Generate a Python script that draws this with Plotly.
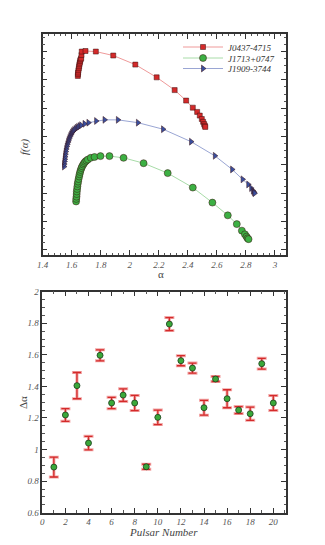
import plotly.graph_objects as go

# --- singularity spectra f(alpha), top panel ---
j0437_alpha = [1.642, 1.643, 1.644, 1.646, 1.649, 1.651, 1.653, 1.656, 1.658, 1.661, 1.665, 1.667,
               1.669, 1.695, 1.766, 1.886, 2.038, 2.185, 2.309, 2.388, 2.434, 2.464, 2.482,
               2.496, 2.505, 2.512, 2.517, 2.520]
j0437_f = [0.814, 0.820, 0.826, 0.834, 0.841, 0.848, 0.855, 0.861, 0.867, 0.872, 0.876, 0.888,
           0.900, 0.902, 0.900, 0.886, 0.854, 0.809, 0.764, 0.727, 0.702, 0.687, 0.674,
           0.662, 0.652, 0.644, 0.638, 0.634]

j1713_alpha = [1.630, 1.631, 1.633, 1.634, 1.635, 1.637, 1.639, 1.641, 1.644, 1.647, 1.651, 1.654,
               1.658, 1.662, 1.667, 1.672, 1.679, 1.685, 1.692, 1.701, 1.711, 1.731, 1.757,
               1.798, 1.860, 1.957, 2.095, 2.261, 2.434, 2.569, 2.675, 2.737, 2.772,
               2.793, 2.804, 2.811, 2.818]
j1713_f = [0.371, 0.380, 0.388, 0.397, 0.406, 0.415, 0.424, 0.433, 0.441, 0.450, 0.459, 0.467,
           0.475, 0.482, 0.489, 0.495, 0.501, 0.506, 0.511, 0.515, 0.519, 0.525, 0.528,
           0.531, 0.531, 0.525, 0.506, 0.471, 0.420, 0.367, 0.322, 0.291, 0.268,
           0.255, 0.247, 0.241, 0.238]

j1909_alpha = [1.547, 1.548, 1.550, 1.552, 1.554, 1.556, 1.559, 1.562, 1.566, 1.570, 1.575, 1.579,
               1.584, 1.590, 1.596, 1.602, 1.609, 1.617, 1.626, 1.635, 1.644, 1.654, 1.665,
               1.688, 1.715, 1.768, 1.826, 1.918, 2.056, 2.229, 2.422, 2.586, 2.705, 2.777,
               2.816, 2.836, 2.848, 2.855, 2.859]
j1909_f = [0.494, 0.503, 0.512, 0.520, 0.529, 0.538, 0.547, 0.556, 0.565, 0.573, 0.581, 0.588,
           0.595, 0.602, 0.608, 0.614, 0.619, 0.623, 0.627, 0.631, 0.634, 0.637, 0.640,
           0.645, 0.649, 0.655, 0.659, 0.659, 0.649, 0.626, 0.582, 0.532, 0.484, 0.449,
           0.431, 0.418, 0.409, 0.404, 0.400]

# --- width of spectrum per pulsar, bottom panel ---
pulsar_number = list(range(1, 21))
delta_alpha = [0.889, 1.219, 1.405, 1.041, 1.597, 1.295, 1.345, 1.295, 0.891, 1.204,
               1.795, 1.563, 1.516, 1.265, 1.447, 1.322, 1.250, 1.227, 1.544, 1.295]
delta_alpha_err = [0.063, 0.040, 0.083, 0.043, 0.035, 0.036, 0.040, 0.048, 0.016, 0.046,
                   0.041, 0.032, 0.032, 0.047, 0.016, 0.057, 0.022, 0.042, 0.034, 0.047]

# page body has an 8px margin, so the figure sits at (8, 8)
OFF = 8
W, H = 325 - OFF, 545 - OFF
serif = "Liberation Serif, Times New Roman, serif"


def px(x):
    return (x - OFF) / W


def py(y):
    return 1 - (y - OFF) / H


fig = go.Figure()

spectra = [
    ("J0437-4715", j0437_alpha, j0437_f, "square", "#d42a2a", "#ef9a9a", 5, "legend", 47),
    ("J1713+0747", j1713_alpha, j1713_f, "circle", "#3cb043", "#a8dca8", 7, "legend2", 58),
    ("J1909-3744", j1909_alpha, j1909_f, "triangle-right", "#3a4f9e", "#9aa6d4", 6, "legend3", 68.5),
]
legends = {}
for name, a, f, sym, fill, line, size, leg, ly in spectra:
    fig.add_trace(go.Scatter(
        x=a, y=f, name=name, mode="lines+markers", legend=leg,
        line=dict(color=line, width=1),
        marker=dict(symbol=sym, size=size, color=fill, line=dict(color="#3a1010", width=0.5)),
        xaxis="x", yaxis="y",
    ))
    legends[leg] = dict(x=px(178), y=py(ly), xanchor="left", yanchor="middle",
                        bgcolor="rgba(0,0,0,0)", borderwidth=0, itemwidth=40,
                        font=dict(family=serif, size=9, color="#333", style="italic"))

# light halo under the error bars, then the real ones
fig.add_trace(go.Scatter(
    x=pulsar_number, y=delta_alpha, mode="markers", showlegend=False,
    marker=dict(size=1, color="rgba(0,0,0,0)"),
    error_y=dict(type="data", array=delta_alpha_err, color="#f2a6a6", thickness=3, width=5),
    xaxis="x2", yaxis="y2",
))
fig.add_trace(go.Scatter(
    x=pulsar_number, y=delta_alpha, mode="markers", showlegend=False,
    marker=dict(size=6, color="#3aa83a", line=dict(color="#1c3d1c", width=0.8)),
    error_y=dict(type="data", array=delta_alpha_err, color="#d42a2a", thickness=1.3, width=4),
    xaxis="x2", yaxis="y2",
))

tickfont = dict(family=serif, size=9, color="#555", style="italic")
common = dict(showline=True, linecolor="#333", linewidth=1.5, mirror="allticks",
              ticks="inside", ticklen=5, tickwidth=1.2, tickcolor="#333", automargin=False,
              showgrid=False, zeroline=False, tickfont=tickfont)


def minor(d):
    return dict(dtick=d, ticks="inside", ticklen=2.5, tickcolor="#555", tickwidth=0.8, showgrid=False)


def label(text, x, y, angle=0, style="normal"):
    return dict(text=text, x=px(x), y=py(y), xref="paper", yref="paper", showarrow=False,
                xanchor="center", yanchor="middle", textangle=angle,
                font=dict(family=serif, size=11, color="#444", style=style))


fig.update_layout(
    template="none",
    width=W, height=H,
    margin=dict(l=0, r=0, t=0, b=0, autoexpand=False),
    paper_bgcolor="white", plot_bgcolor="white",
    xaxis=dict(domain=[px(42.7), px(286)], range=[1.4, 3.076], dtick=0.2, tick0=1.4,
               minor=minor(0.04), anchor="y", **common),
    yaxis=dict(domain=[py(255), py(34)], range=[0.182, 0.962], dtick=0.1, tick0=0.2,
               showticklabels=False, minor=minor(0.025), anchor="x", **common),
    xaxis2=dict(domain=[px(42.3), px(286)], range=[0, 21.1], dtick=2, tick0=0,
                minor=minor(1), anchor="y2", **common),
    yaxis2=dict(domain=[py(512.7), py(291.7)], range=[0.6, 2.0], dtick=0.2, tick0=0.6,
                minor=minor(0.05), anchor="x2", **common),
    annotations=[
        label("α", 161, 274),
        label("f(α)", 24, 147, -90, "italic"),
        label("Pulsar Number", 163, 532, 0, "italic"),
        label("Δα", 23, 403, -90),
    ],
    **legends,
)

fig.write_html("out.html")
